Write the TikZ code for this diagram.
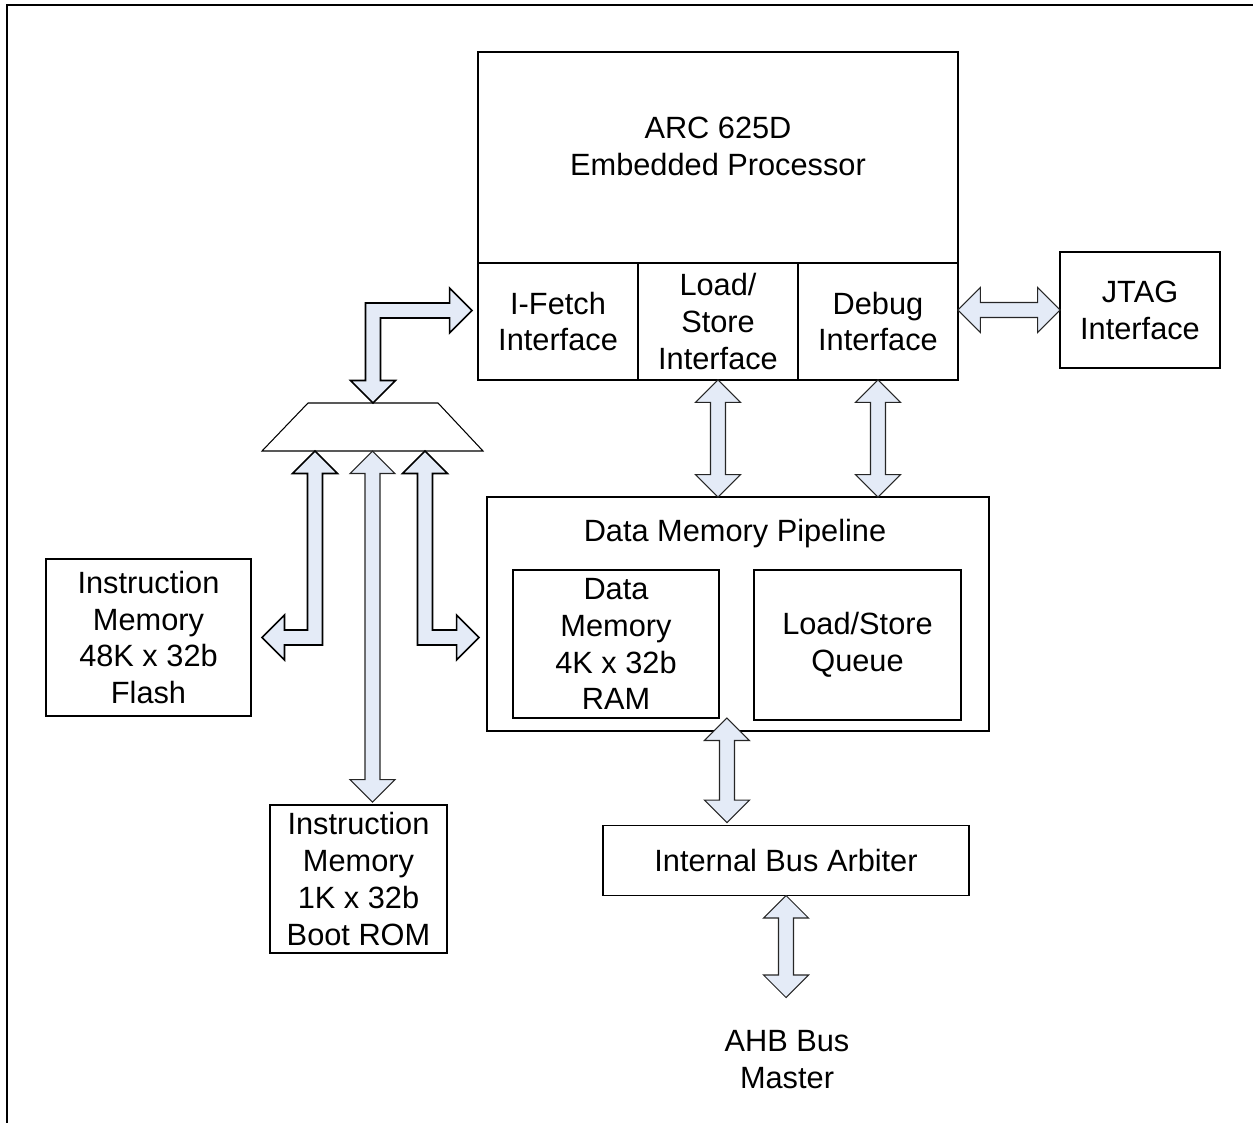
\documentclass[tikz,border=0pt]{standalone}
\usepackage{fontspec}
\setmainfont{Liberation Sans}
\usepackage{xcolor}
\usetikzlibrary{calc,positioning}

\definecolor{busblue}{RGB}{228,235,247}
\newcommand{\headlen}{0.45cm}
\newcommand{\headhw}{0.45cm}
\newcommand{\shafthw}{0.15cm}

\begin{document}
\begin{tikzpicture}[
  x=0.02cm, y=-0.02cm,
  every node/.style={font=\fontsize{17.5}{21}\selectfont},
  box/.style={rectangle, draw=black, line width=1.1pt, align=center,
              inner sep=0pt, outer sep=0pt},
  cell/.style={box, minimum width=3.2cm, minimum height=2.34cm},
  txt/.style={align=center, inner sep=0pt},
  bus/.style={draw=black!85, line width=0.6pt, fill=busblue, line join=miter,
    to path={
      -- ($($(\tikztostart)!\headlen!(\tikztotarget)$)!\headhw!90:(\tikztotarget)$)
      -- ($($(\tikztostart)!\headlen!(\tikztotarget)$)!\shafthw!90:(\tikztotarget)$)
      -- ($($(\tikztotarget)!\headlen!(\tikztostart)$)!\shafthw!-90:(\tikztostart)$)
      -- ($($(\tikztotarget)!\headlen!(\tikztostart)$)!\headhw!-90:(\tikztostart)$)
      -- (\tikztotarget)
      -- ($($(\tikztotarget)!\headlen!(\tikztostart)$)!\headhw!90:(\tikztostart)$)
      -- ($($(\tikztotarget)!\headlen!(\tikztostart)$)!\shafthw!90:(\tikztostart)$)
      -- ($($(\tikztostart)!\headlen!(\tikztotarget)$)!\shafthw!-90:(\tikztotarget)$)
      -- ($($(\tikztostart)!\headlen!(\tikztotarget)$)!\headhw!-90:(\tikztotarget)$)
      -- cycle}},
  busbend/.style={draw=black, line width=0.9pt, fill=busblue, line join=miter}
]
\useasboundingbox (0,0) rectangle (1253,1123);
\draw[line width=1.1pt] (1253,5) -- (7,5) -- (7,1123);

% processor and its interfaces
\node[box, minimum width=9.6cm, minimum height=4.22cm] (proc) at (718,157.5) {};
\node[txt] (proctitle) at (718,146) {ARC 625D\\Embedded Processor};
\node[cell, anchor=north west] (ifetch) at (proc.south west) {I-Fetch\\Interface};
\node[cell, right=0pt of ifetch] (lsif) {Load/\\Store\\Interface};
\node[cell, right=0pt of lsif] (dbgif) {Debug\\Interface};
\node[box, minimum width=3.2cm, minimum height=2.32cm] (jtag) at (1140,310) {JTAG\\Interface};

% instruction side
\draw[line width=0.6pt] (262,451) -- (308,403) -- (438,403) -- (483,451) -- cycle;
\coordinate (muxtop) at (373,403);
\coordinate (muxbot) at (372.5,451);
\node[box, minimum width=4.1cm, minimum height=3.14cm] (flash) at (148.5,637.5) {Instruction\\Memory\\48K x 32b\\Flash};
\node[box, minimum width=3.54cm, minimum height=2.96cm] (boot) at (358.5,879) {Instruction\\Memory\\1K x 32b\\Boot ROM};

% data side
\node[box, minimum width=10.04cm, minimum height=4.68cm] (dmp) at (738,614) {};
\node[txt] (dmptitle) at (735,534) {Data Memory Pipeline};
\node[box, minimum width=4.12cm, minimum height=2.96cm] (dmem) at (616,644) {Data\\Memory\\4K x 32b\\RAM};
\node[box, minimum width=4.14cm, minimum height=3.0cm] (lsq) at (857.5,645) {Load/Store\\Queue};
\node[box, minimum width=7.32cm, minimum height=1.4cm] (arb) at (786,860.5) {Internal Bus Arbiter};
\node[txt] (ahb) at (787,1059.5) {AHB Bus\\Master};

% bus ends
\coordinate (fetchend) at ($(ifetch.west)+(-6,-11)$);
\coordinate (flashtop) at ($(muxbot)+(-57.5,0)$);
\coordinate (flashend) at ($(flash.east)+(11,0)$);
\coordinate (romtop) at ($(muxbot)+(52.5,0)$);
\coordinate (romend) at ($(dmp.west |- flash.east)+(-8,0)$);
\coordinate (bootin) at ($(boot.north -| muxbot)+(0,-3)$);
\coordinate (lsin) at (dmp.north -| lsif.south);
\coordinate (dbgin) at (dmp.north -| dbgif.south);
\coordinate (jtagout) at (dbgif.east |- jtag.west);
\coordinate (dmpout) at ($(dmem.south east)+(8,0)$);
\coordinate (arbin) at ($(arb.north -| dmpout)+(0,-3)$);
\coordinate (ahbin) at ($(arb.south)+(0,102)$);

% bent buses
\draw[busbend] (muxtop) -- ++(22.5,-22.5) -- ++(-15,0)
  |- ($(fetchend)+(-22.5,7.5)$) -- ++(0,15) -- (fetchend)
  -- ++(-22.5,-22.5) -- ++(0,15) -| ($(muxtop)+(-7.5,-22.5)$)
  -- ++(-15,0) -- cycle;
\draw[busbend] (flashtop) -- ++(22.5,22.5) -- ++(-15,0)
  |- ($(flashend)+(22.5,7.5)$) -- ++(0,15) -- (flashend)
  -- ++(22.5,-22.5) -- ++(0,15) -| ($(flashtop)+(-7.5,22.5)$)
  -- ++(-15,0) -- cycle;
\draw[busbend] (romtop) -- ++(22.5,22.5) -- ++(-15,0)
  |- ($(romend)+(-22.5,-7.5)$) -- ++(0,-15) -- (romend)
  -- ++(-22.5,22.5) -- ++(0,-15) -| ($(romtop)+(-7.5,22.5)$)
  -- ++(-15,0) -- cycle;

% straight buses
\draw[bus] (muxbot) to (bootin);
\draw[bus] (lsif.south) to (lsin);
\draw[bus] (dbgif.south) to (dbgin);
\draw[bus] (jtagout) to (jtag.west);
\draw[bus] (dmpout) to (arbin);
\draw[bus] (arb.south) to (ahbin);
\end{tikzpicture}
\end{document}
